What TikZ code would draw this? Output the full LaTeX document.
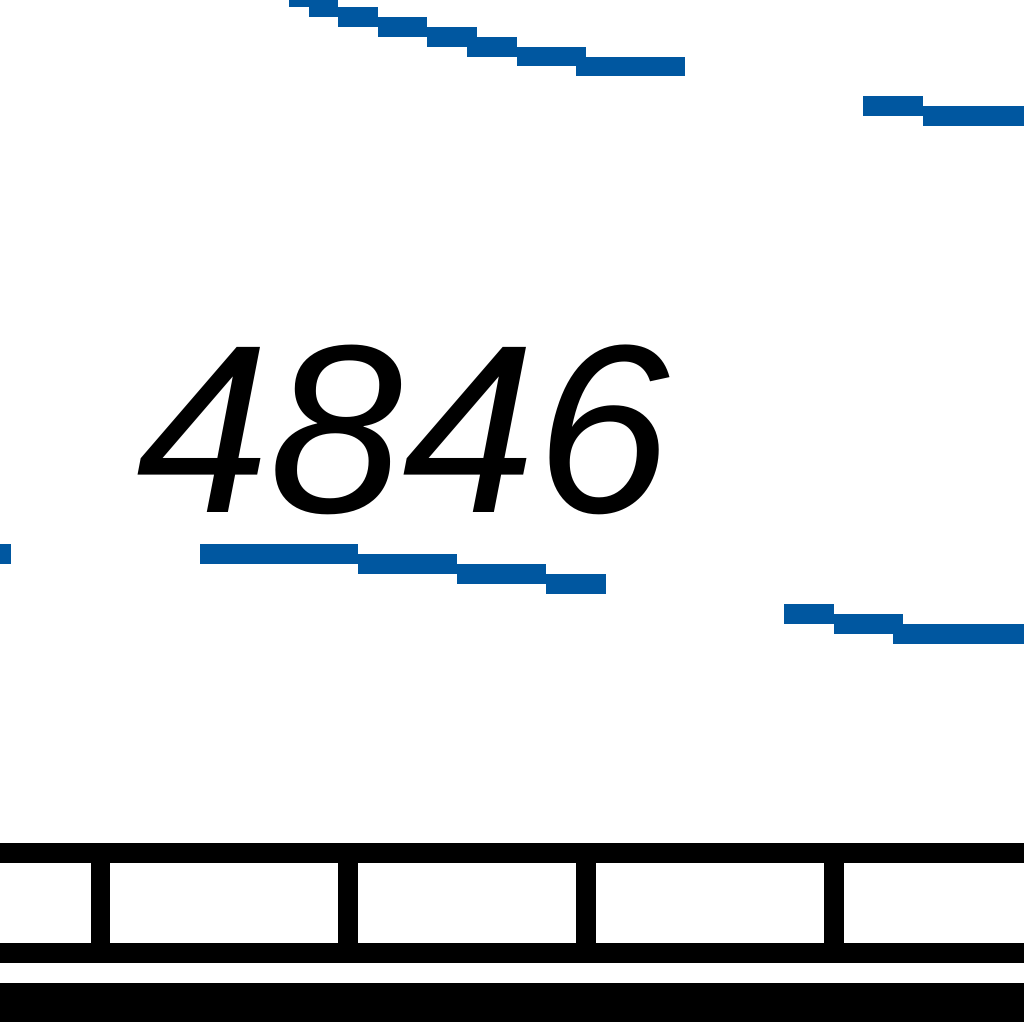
\documentclass[tikz,border=0pt]{standalone}
\usepackage{fontspec}
\setmainfont{Liberation Sans}
\definecolor{lineblue}{HTML}{0057A0}
\tikzset{x=1pt,y=-1pt,
 bluebar/.style={fill=lineblue,draw=none},
 blackbar/.style={fill=black,draw=none},
 numlabel/.style={inner sep=0pt,anchor=center,text=black}}
\begin{document}
\begin{tikzpicture}
\useasboundingbox (0,0) rectangle (1024,1022);
\foreach \a/\b/\c/\d in {289/0/309/7,309/0/338/17,338/7/378/27,378/17/427/37,427/27/477/47,467/37/517/57,517/47/586/66,576/57/685/76,
 863/96/923/116,923/106/1024/126,0/544/11/564,
 200/544/358/564,358/554/457/574,457/564/546/584,546/574/606/594,
 784/604/834/624,834/614/903/634,893/624/1024/644}
 {\fill[bluebar] (\a,\b) rectangle (\c,\d);}
\foreach \a/\b/\c/\d in {0/843/1024/863,0/943/1024/963,0/983/1024/1022,91/863/110/943,338/863/358/943,576/863/596/943,824/863/844/943}
 {\fill[blackbar] (\a,\b) rectangle (\c,\d);}
\node[numlabel] (num) at (403,430) {\fontsize{240}{240}\selectfont\itshape 4846};
\end{tikzpicture}
\end{document}
